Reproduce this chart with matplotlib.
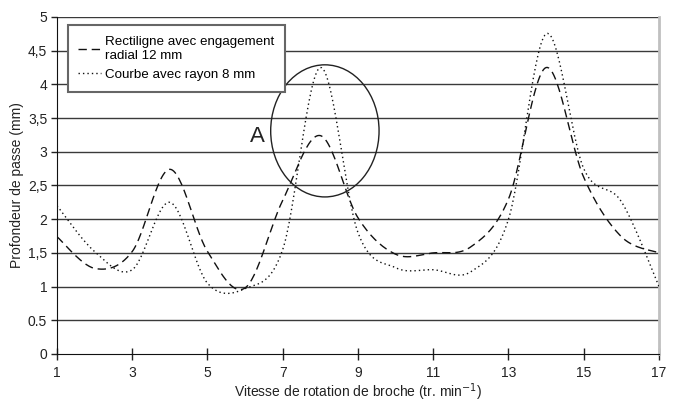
import matplotlib
matplotlib.use("Agg")
import matplotlib.pyplot as plt
from matplotlib.patches import Ellipse
import numpy as np

plt.rcParams['font.family'] = ['Liberation Sans', 'DejaVu Sans']

# vitesse de rotation (points de mesure)
vitesse = [1, 2, 3, 4, 5, 6, 7, 8, 9, 10, 11, 12, 13, 14, 15, 16, 17]
# rectiligne avec engagement radial 12 mm
rectiligne = [1.74, 1.27, 1.52, 2.74, 1.52, 0.98, 2.28, 3.24, 2.02, 1.48,
              1.5, 1.59, 2.3, 4.25, 2.62, 1.74, 1.5]
# courbe avec rayon 8 mm
courbe = [2.2, 1.52, 1.25, 2.25, 1.05, 0.97, 1.55, 4.25, 1.8, 1.28,
          1.25, 1.22, 2.0, 4.75, 2.75, 2.26, 1.0]

y_ticks = [0, 0.5, 1, 1.5, 2, 2.5, 3, 3.5, 4, 4.5, 5]
y_labels = ["0", "0.5", "1", "1,5", "2", "2,5", "3", "3,5", "4", "4,5", "5"]
x_ticks = [1, 3, 5, 7, 9, 11, 13, 15, 17]


def smooth(xs, ys, n=30):
    # courbe lissee type Excel (catmull-rom -> bezier)
    xs = np.asarray(xs, float)
    ys = np.asarray(ys, float)
    px = np.concatenate([[xs[0]], xs, [xs[-1]]])
    py = np.concatenate([[ys[0]], ys, [ys[-1]]])
    out_x, out_y = [], []
    t = np.linspace(0, 1, n)
    for i in range(1, len(px) - 2):
        x0, x3 = px[i], px[i + 1]
        y0, y3 = py[i], py[i + 1]
        x1 = x0 + (px[i + 1] - px[i - 1]) / 6
        y1 = y0 + (py[i + 1] - py[i - 1]) / 6
        x2 = x3 - (px[i + 2] - px[i]) / 6
        y2 = y3 - (py[i + 2] - py[i]) / 6
        bx = (1-t)**3*x0 + 3*(1-t)**2*t*x1 + 3*(1-t)*t**2*x2 + t**3*x3
        by = (1-t)**3*y0 + 3*(1-t)**2*t*y1 + 3*(1-t)*t**2*y2 + t**3*y3
        out_x.extend(bx)
        out_y.extend(by)
    return out_x, out_y


fig = plt.figure(figsize=(6.75, 4.04), dpi=100)
ax = fig.add_axes([0.0844, 0.1238, 0.8919, 0.8342])

for yv in y_ticks[1:]:
    ax.axhline(yv, color='#3a3a3a', lw=1.0, zorder=1)

sx, sy = smooth(vitesse, rectiligne)
ax.plot(sx, sy, color='#111111', lw=1.0, dashes=(6, 3.5),
        label="Rectiligne avec engagement\nradial 12 mm", zorder=3)
sx, sy = smooth(vitesse, courbe)
ax.plot(sx, sy, color='#111111', lw=1.0, dashes=(1, 2.2),
        label="Courbe avec rayon 8 mm", zorder=3)

ax.add_patch(Ellipse((8.12, 3.31), 2.88, 1.96, fill=False,
                     edgecolor='#222222', lw=1.0, zorder=4))
ax.text(6.32, 3.22, "A", fontsize=16, ha='center', va='center', color='#222222')

ax.set_xlim(1, 17)
ax.set_ylim(0, 5)
ax.set_xticks(x_ticks)
ax.set_yticks(y_ticks)
ax.set_yticklabels(y_labels)
ax.tick_params(axis='y', direction='out', length=4, width=1, labelsize=10,
               colors='#222222', pad=3)
ax.tick_params(axis='x', direction='inout', length=8, width=1, labelsize=10,
               colors='#222222', pad=5)

ax.spines['top'].set_visible(False)
ax.spines['right'].set_color('#c0c0c0')
ax.spines['right'].set_linewidth(2)
ax.spines['left'].set_color('#111111')
ax.spines['bottom'].set_color('#111111')

ax.set_ylabel("Profondeur de passe (mm)", fontsize=10, color='#222222', labelpad=3)
ax.set_xlabel("Vitesse de rotation de broche (tr. min$^{-1}$)", fontsize=10,
              color='#222222', labelpad=1)

leg = ax.legend(loc='upper left', bbox_to_anchor=(0.018, 0.975), fontsize=9.6,
                frameon=True, fancybox=False, handlelength=1.7, handletextpad=0.3,
                borderpad=0.8, labelspacing=0.5, borderaxespad=0)
leg.get_frame().set_edgecolor('#666666')
leg.get_frame().set_linewidth(1.5)
leg.get_frame().set_alpha(1)
leg.set_zorder(5)

fig.savefig("out.png", dpi=100)
